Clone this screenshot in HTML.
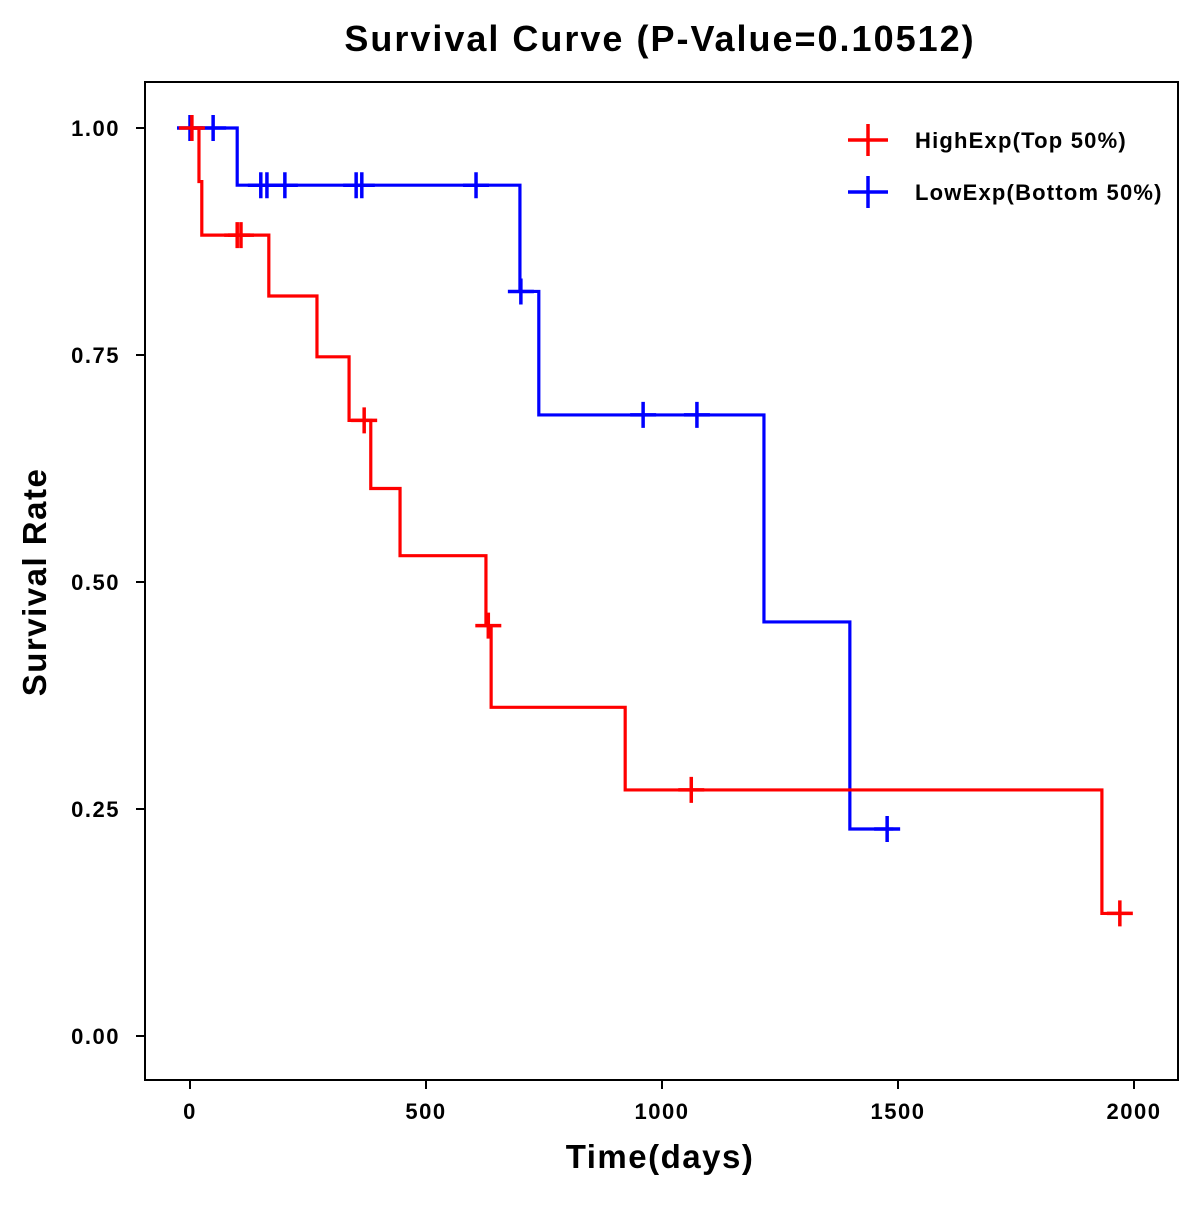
<!DOCTYPE html>
<html><head><meta charset="utf-8"><style>
body{margin:0;background:#fff}
svg text{font-family:"Liberation Sans",Arial,sans-serif;font-weight:bold}
</style></head><body>
<svg id="chart" width="1200" height="1200" xmlns="http://www.w3.org/2000/svg">
<rect width="1200" height="1200" fill="#fff"/>
<text x="660" y="51" font-size="36" letter-spacing="2" text-anchor="middle">Survival Curve (P-Value=0.10512)</text>
<rect x="145" y="82" width="1033" height="998" fill="none" stroke="#000" stroke-width="2"/>
<g id="axes"></g>
<g id="series"></g>
<text x="660" y="1168" font-size="33" letter-spacing="1.5" text-anchor="middle">Time(days)</text>
<text transform="translate(46,582) rotate(-90)" font-size="33" letter-spacing="1.5" text-anchor="middle">Survival Rate</text>
<g>
<g>
<path d="M848 140H888M868 124V156" stroke="#ff0000" stroke-width="3.5"/>
<text x="915" y="148" font-size="22" letter-spacing="1.2">HighExp(Top 50%)</text></g>
<g>
<path d="M848 192H888M868 176V208" stroke="#0000ff" stroke-width="3.5"/>
<text x="915" y="200" font-size="22" letter-spacing="1.2">LowExp(Bottom 50%)</text></g>
</g>
</svg>
<script>
const xTicks=[0,500,1000,1500,2000];
const yTicks=[0,0.25,0.5,0.75,1.0];
const yTickLabels=["0.00","0.25","0.50","0.75","1.00"];
const highTimes=[0,19,25,167,269,337,383,445,627,638,922,1932];
const highSurv=[1.0,0.941,0.882,0.815,0.748,0.678,0.603,0.529,0.452,0.362,0.271,0.135];
const highCensor=[4,100,108,369,632,1062,1970];
const highEnd=1990;
const lowTimes=[0,100,699,739,1216,1398];
const lowSurv=[1.0,0.937,0.820,0.684,0.456,0.228];
const lowCensor=[0,49,150,163,201,352,364,606,701,960,1074,1477];
const lowEnd=1490;

const X=t=>190+t*0.472;
const Y=s=>1036-s*908;
const NS="http://www.w3.org/2000/svg";
const axes=document.getElementById('axes');
const series=document.getElementById('series');
function mk(tag,attrs,parent){const e=document.createElementNS(NS,tag);for(const k in attrs)e.setAttribute(k,attrs[k]);parent.appendChild(e);return e;}
xTicks.forEach(v=>{
  const l=mk('line',{x1:X(v),x2:X(v),y1:1080,y2:1089,stroke:'#000','stroke-width':2},axes);
  
  
  const t=mk('text',{x:X(v),y:1119,'font-size':22,'letter-spacing':1.5,'text-anchor':'middle'},axes);
  t.textContent=v;
  
  
});
yTicks.forEach((v,i)=>{
  const l=mk('line',{x1:136,x2:145,y1:Y(v),y2:Y(v),stroke:'#000','stroke-width':2},axes);
  
  
  const t=mk('text',{x:120,y:Y(v)+8,'font-size':22,'letter-spacing':1.5,'text-anchor':'end'},axes);
  t.textContent=yTickLabels[i];
  
  
});
function survAt(times,surv,t){let s=surv[0];for(let i=0;i<times.length;i++){if(times[i]<=t)s=surv[i];}return s;}
function draw(times,surv,cens,end,color,name){
  let d='M'+X(times[0])+' '+Y(surv[0]);
  for(let i=1;i<times.length;i++){d+='H'+X(times[i])+'V'+Y(surv[i]);}
  d+='H'+X(end);
  const p=mk('path',{d:d,fill:'none',stroke:color,'stroke-width':3.2},series);
  
  
  cens.forEach(c=>{
    const s=survAt(times,surv,c);
    const cx=X(c),cy=Y(s);
    const m=mk('path',{d:`M${cx-13} ${cy}H${cx+13}M${cx} ${cy-13}V${cy+13}`,stroke:color,'stroke-width':3.5},series);
    
    
  });
}
draw(lowTimes,lowSurv,lowCensor,lowEnd,'#0000ff','low-exp');
draw(highTimes,highSurv,highCensor,highEnd,'#ff0000','high-exp');
</script>
</body></html>
